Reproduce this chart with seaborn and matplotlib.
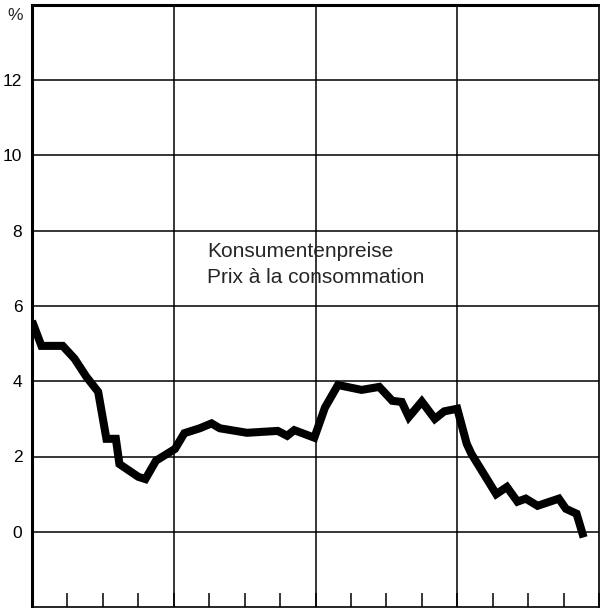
import matplotlib
matplotlib.use("Agg")
import matplotlib.pyplot as plt
from matplotlib.ticker import MultipleLocator
import seaborn as sns
import pandas as pd

# Consumer price inflation, % change on a year earlier (months from start of period)
months = [0.0, 0.8, 2.6, 3.6, 4.6, 5.6, 6.3, 7.1, 7.4, 9.0, 9.6, 10.5,
          12.1, 12.9, 14.2, 15.2, 15.9, 18.2, 20.8, 21.6, 22.2, 23.9,
          24.8, 25.9, 27.9, 29.4, 30.5, 31.3, 31.9, 33.0, 34.1, 34.9,
          36.0, 36.8, 37.2, 39.3, 40.2, 41.1, 41.8, 42.8, 44.6, 45.2,
          46.1, 46.7]
inflation = [5.6, 4.94, 4.94, 4.6, 4.12, 3.72, 2.47, 2.47, 1.8, 1.46, 1.40, 1.89,
             2.2, 2.62, 2.75, 2.88, 2.75, 2.63, 2.68, 2.55, 2.7, 2.5,
             3.3, 3.9, 3.77, 3.85, 3.48, 3.45, 3.05, 3.46, 3.0, 3.2,
             3.27, 2.34, 2.07, 1.0, 1.19, 0.8, 0.88, 0.69, 0.88, 0.61,
             0.48, -0.15]

y_ticks = [0, 2, 4, 6, 8, 10, 12]
y_unit = "%"
series_label = ["Konsumentenpreise", "Prix à la consommation"]

df = pd.DataFrame({"month": months, "inflation": inflation})

sns.set_style("white")
plt.rcParams["font.family"] = ["Liberation Sans", "DejaVu Sans"]

fig = plt.figure(figsize=(6.0, 6.08), dpi=100)
ax = fig.add_axes([32 / 600, 1 / 608, 567 / 600, 602 / 608])

sns.lineplot(data=df, x="month", y="inflation", ax=ax, color="black",
             linewidth=5.8, solid_joinstyle="miter", solid_capstyle="butt",
             zorder=5)

ax.set_xlim(0, 48)
ax.set_ylim(-2, 14)

# grid: yearly verticals, 2-point horizontals
for yv in y_ticks:
    ax.axhline(yv, color="black", linewidth=1.1, zorder=1)
for xv in (12, 24, 36):
    ax.axvline(xv, color="black", linewidth=1.1, zorder=1)

ax.set_yticks(y_ticks)
ax.set_yticklabels([str(v) for v in y_ticks])
ax.tick_params(axis="y", length=0, pad=7, labelsize=12.5, colors="black")

# quarterly tick marks along the bottom, pointing into the plot
ax.set_xticks([])
ax.xaxis.set_minor_locator(MultipleLocator(3))
ax.tick_params(axis="x", which="minor", direction="in", length=10,
               width=1.1, color="black", bottom=True, labelbottom=False)

ax.text(-0.75, 13.72, y_unit, ha="right", va="center", fontsize=12.5,
        transform=ax.transData, clip_on=False)

ax.text(14.85, 7.30, series_label[0], fontsize=15, ha="left", va="baseline")
ax.text(14.85, 6.60, series_label[1], fontsize=15, ha="left", va="baseline")

ax.set_xlabel("")
ax.set_ylabel("")
for side, lw in (("left", 2.2), ("top", 2.2), ("right", 1.2), ("bottom", 1.2)):
    ax.spines[side].set_visible(True)
    ax.spines[side].set_color("black")
    ax.spines[side].set_linewidth(lw)

fig.savefig("out.png", dpi=100, facecolor="white")
